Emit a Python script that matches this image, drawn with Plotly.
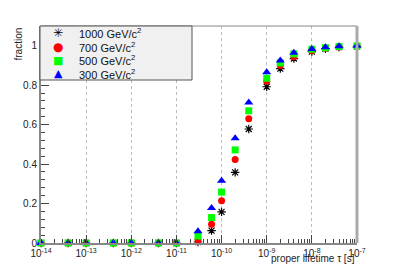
import plotly.graph_objects as go

tau = [1e-14, 4e-14, 1e-13, 4e-13, 1e-12, 4e-12, 1e-11, 3e-11, 6e-11, 1e-10,
       2e-10, 4e-10, 1e-9, 2e-9, 4e-9, 1e-8, 2e-8, 4e-8, 1e-7]
frac_1000 = [0, 0, 0, 0, 0, 0, 0, 0.005, 0.063, 0.158, 0.358, 0.578, 0.792, 0.884, 0.935, 0.970, 0.985, 0.993, 0.997]
frac_700 = [0, 0, 0, 0, 0, 0, 0, 0.015, 0.095, 0.214, 0.423, 0.630, 0.820, 0.900, 0.944, 0.975, 0.987, 0.994, 0.998]
frac_500 = [0, 0, 0, 0, 0, 0, 0, 0.035, 0.129, 0.258, 0.472, 0.670, 0.835, 0.913, 0.959, 0.982, 0.990, 0.996, 0.999]
frac_300 = [0, 0, 0, 0, 0, 0, 0, 0.060, 0.178, 0.316, 0.531, 0.712, 0.865, 0.925, 0.964, 0.984, 0.992, 0.997, 1.0]
labels = ["1000 GeV/c<sup>2</sup>", "700 GeV/c<sup>2</sup>", "500 GeV/c<sup>2</sup>", "300 GeV/c<sup>2</sup>"]

W, H = 399, 270
ML, MR, MT, MB = 41, 42, 26, 27
PW, PH = W - ML - MR, H - MT - MB


def px(xp):
    return (xp - ML) / PW


def py(yp):
    return (H - MB - yp) / PH


markers = [
    dict(symbol="asterisk-open", color="black", size=7, line=dict(color="black", width=1.2)),
    dict(symbol="circle", color="red", size=7, line=dict(width=0)),
    dict(symbol="square", color="#00ff00", size=7, line=dict(width=0)),
    dict(symbol="triangle-up", color="blue", size=8, line=dict(width=0)),
]
glyphs = [("\u2733", "black", 12), ("\u25cf", "red", 12), ("\u25a0", "#00ff00", 11), ("\u25b2", "blue", 11)]

fig = go.Figure()
for name, ys, mk in zip(labels, [frac_1000, frac_700, frac_500, frac_300], markers):
    fig.add_trace(go.Scatter(x=tau, y=ys, mode="markers", name=name, marker=mk, cliponaxis=False))

xt = [10.0 ** e for e in range(-14, -6)]
xl = ["10<sup>%d</sup>" % e for e in range(-14, -6)]

rows = [33, 46.5, 60, 73.5]
ann = [
    dict(text="fraction", xref="paper", yref="paper", x=px(18), y=1.0,
         xanchor="center", yanchor="top", textangle=-90, showarrow=False,
         font=dict(size=10, color="#222")),
    dict(text="proper lifetime \u03c4 [s]", xref="paper", yref="paper", x=1.0, y=py(258),
         xanchor="right", yanchor="middle", showarrow=False,
         font=dict(size=10, color="#222")),
]
for (g, c, s), lab, r in zip(glyphs, labels, rows):
    ann.append(dict(text=g, xref="paper", yref="paper", x=px(58), y=py(r), xanchor="center",
                    yanchor="middle", showarrow=False, font=dict(size=s, color=c,
                    family="DejaVu Sans")))
    ann.append(dict(text=lab, xref="paper", yref="paper", x=px(77), y=py(r), xanchor="left",
                    yanchor="middle", showarrow=False, font=dict(size=11, color="#111")))

fig.update_layout(
    width=W, height=H,
    margin=dict(l=ML, r=MR, t=MT, b=MB),
    paper_bgcolor="white", plot_bgcolor="white",
    font=dict(family="Liberation Sans, Arial, sans-serif", size=10, color="#222"),
    showlegend=False,
    xaxis=dict(type="log", range=[-14, -7], tickvals=xt, ticktext=xl,
               ticks="inside", ticklen=8, tickcolor="#444",
               showgrid=True, gridcolor="#bbb", griddash="dot", gridwidth=1,
               showline=True, linecolor="#888", linewidth=2, mirror=False,
               zeroline=False,
               minor=dict(ticks="inside", ticklen=4, tickcolor="#444", dtick="D1", showgrid=False),
               tickfont=dict(size=10)),
    yaxis=dict(range=[0, 1.1], tickvals=[0, 0.2, 0.4, 0.6, 0.8, 1.0],
               ticktext=["0", "0.2", "0.4", "0.6", "0.8", "1"],
               ticks="inside", ticklen=8, tickcolor="#444",
               showgrid=False, zeroline=False,
               showline=True, linecolor="#888", linewidth=2,
               minor=dict(ticks="inside", ticklen=4, tickcolor="#444", dtick=0.04),
               tickfont=dict(size=10)),
    shapes=[
        dict(type="line", xref="paper", yref="paper", x0=0, x1=1, y0=1, y1=1,
             line=dict(color="#888", width=1)),
        dict(type="line", xref="paper", yref="paper", x0=1, x1=1, y0=0, y1=1,
             line=dict(color="#aaa", width=3)),
        dict(type="rect", xref="paper", yref="paper", x0=px(40), x1=px(192), y0=py(80), y1=1,
             fillcolor="#f0f0f0", line=dict(color="#555", width=1), layer="above"),
    ],
    annotations=ann,
)

fig.write_html("out.html", config={"displayModeBar": False},
               post_script="document.body.style.margin='0';")
